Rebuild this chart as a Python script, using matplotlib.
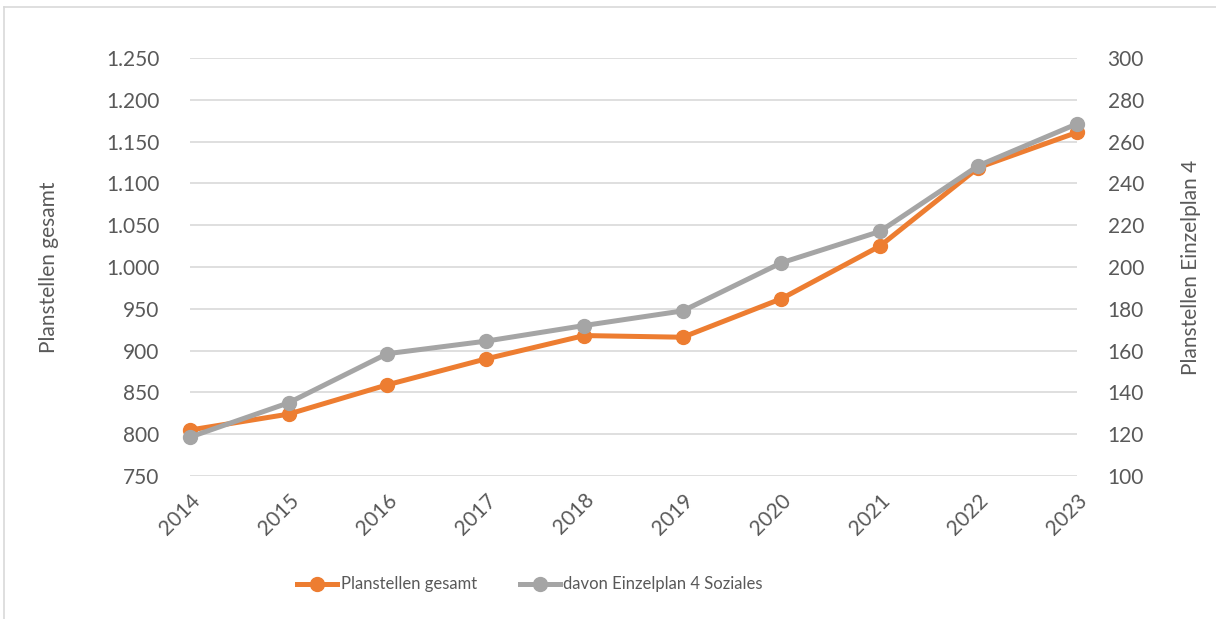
import matplotlib.pyplot as plt
from matplotlib.lines import Line2D

plt.rcParams['font.family'] = ['Lato', 'DejaVu Sans']

years = [2014, 2015, 2016, 2017, 2018, 2019, 2020, 2021, 2022, 2023]
gesamt = [805, 824, 859, 890, 918, 916, 962, 1025, 1119, 1161]
soziales = [118.6, 135, 158.5, 164.5, 172, 179, 202, 217, 248.5, 268.5]

left_ticks = [750, 800, 850, 900, 950, 1000, 1050, 1100, 1150, 1200, 1250]
right_ticks = [100, 120, 140, 160, 180, 200, 220, 240, 260, 280, 300]

orange = '#ED7D31'
grey = '#A5A5A5'
txt = '#595959'

def de_fmt(v):
    return f"{v:,}".replace(",", ".")

fig = plt.figure(figsize=(12.16, 6.19), dpi=100)
ax = fig.add_axes([0.1562, 0.2310, 0.7295, 0.6753])
ax2 = ax.twinx()

ax.plot(years, gesamt, color=orange, lw=3.6, marker='o', ms=10, zorder=3,
        solid_joinstyle='round', clip_on=False)
ax2.plot(years, soziales, color=grey, lw=3.6, marker='o', ms=10, zorder=3,
         solid_joinstyle='round', clip_on=False)

ax.set_xlim(2014, 2023)
ax.set_ylim(750, 1250)
ax2.set_ylim(100, 300)
ax.set_yticks(left_ticks)
ax.set_yticklabels([de_fmt(v) for v in left_ticks])
ax2.set_yticks(right_ticks)
ax2.set_yticklabels([str(v) for v in right_ticks])
ax.set_xticks(years)
ax.set_xticklabels([str(y) for y in years], rotation=45, ha='right',
                   rotation_mode='anchor')

ax.grid(axis='y', color='#D9D9D9', lw=1.2)
ax.set_axisbelow(True)
for a in (ax, ax2):
    for s in a.spines.values():
        s.set_visible(False)
    a.tick_params(length=0, colors=txt, labelsize=15)
ax.tick_params(axis='y', pad=22)
ax2.tick_params(axis='y', pad=22)
ax.tick_params(axis='x', pad=10)

ax.set_ylabel('Planstellen gesamt', color=txt, fontsize=15, labelpad=34)
ax2.set_ylabel('Planstellen Einzelplan 4', color=txt, fontsize=15, labelpad=27)

handles = [Line2D([], [], color=orange, lw=3.6, marker='o', ms=10),
           Line2D([], [], color=grey, lw=3.6, marker='o', ms=10)]
fig.legend(handles, ['Planstellen gesamt', 'davon Einzelplan 4 Soziales'],
           loc='center', bbox_to_anchor=(0.436, 0.056), ncol=2, frameon=False,
           fontsize=12, labelcolor=txt, handlelength=2.4, handletextpad=0.2,
           columnspacing=2.6)

# light frame around the chart area
fig.add_artist(Line2D([4 / 1216, 4 / 1216], [0, 1 - 7 / 619],
                      transform=fig.transFigure, color='#D9D9D9', lw=1.2))
fig.add_artist(Line2D([4 / 1216, 1], [1 - 7 / 619, 1 - 7 / 619],
                      transform=fig.transFigure, color='#D9D9D9', lw=1.2))

fig.savefig('out.png', dpi=100)
